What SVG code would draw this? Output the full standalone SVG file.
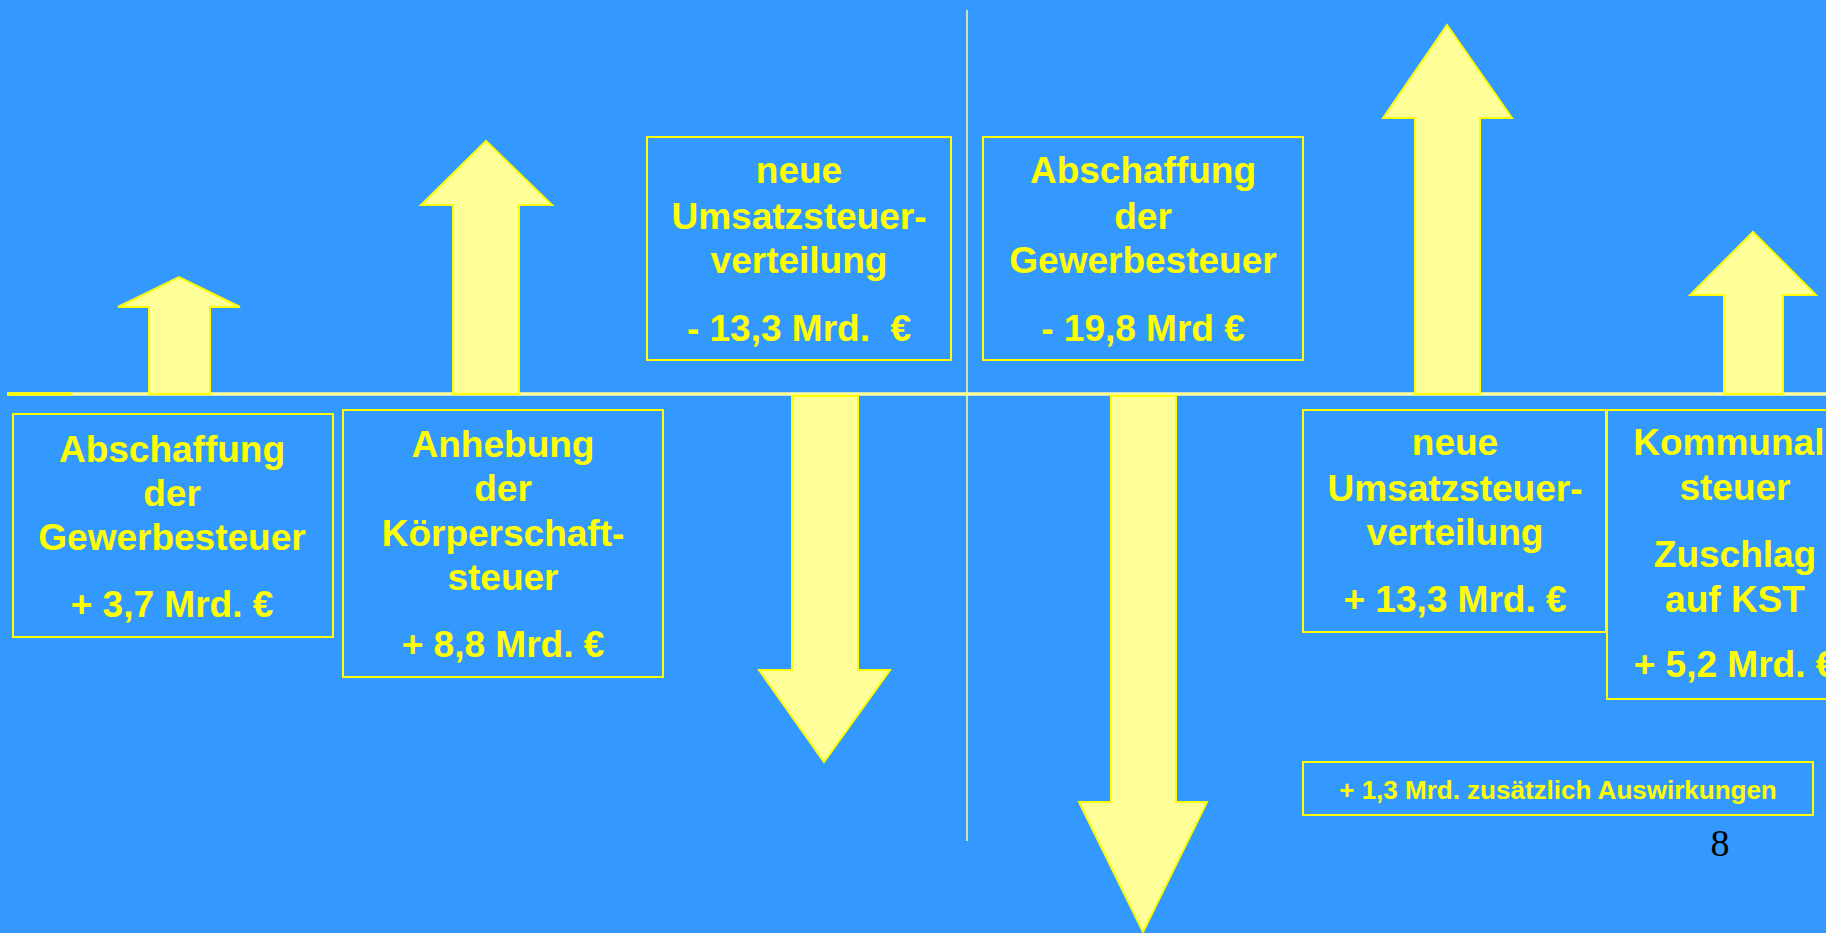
<svg xmlns="http://www.w3.org/2000/svg" width="1826" height="933" viewBox="0 0 1826 933">
<style>
.bg{fill:#3399FF}
.box{fill:none;stroke:#FFFF00;stroke-width:2}
.arrow{fill:#FFFF99;stroke:#FFFF00;stroke-width:2;stroke-linejoin:miter}
.t{font-family:"Liberation Sans",Arial,sans-serif;font-weight:bold;font-size:37px;fill:#FFFF00;text-anchor:middle}
.s{font-size:26px}
.pg{font-family:"Liberation Serif","Times New Roman",serif;font-size:38px;fill:#000;text-anchor:middle}
</style>
<rect class="bg" x="0" y="0" width="1826" height="933"/>
<g id="connectors">
<line x1="7" y1="394" x2="1826" y2="394" stroke="#FFFF99" stroke-width="3.5"/>
<line x1="7" y1="394" x2="72" y2="394" stroke="#FFFF00" stroke-width="3.5"/>
<line x1="967" y1="10" x2="967" y2="841" stroke="#FFFF99" stroke-width="1.5"/>
<polygon id="arrow1" class="arrow" points="149,394 149,307 118,307 179,277 240,307 210,307 210,394"/>
<polygon id="arrow2" class="arrow" points="453,394 453,205 421,205 486,141 552,205 519,205 519,394"/>
<polygon id="arrow3" class="arrow" points="792,396 792,670 759,670 824,762 890,670 858,670 858,396"/>
<polygon id="arrow4" class="arrow" points="1111,396 1111,802 1079,802 1143,932 1207,802 1176,802 1176,396"/>
<polygon id="arrow5" class="arrow" points="1415,394 1415,118 1383,118 1447,25 1512,118 1480,118 1480,394"/>
<polygon id="arrow6" class="arrow" points="1724,394 1724,295 1690,295 1753,232 1816,295 1783,295 1783,394"/>
</g>
<g id="box-ust-minus">
<rect class="box" x="647" y="137" width="304" height="223"/>
<text class="t" x="799" y="183">neue</text>
<text class="t" x="799" y="229">Umsatzsteuer-</text>
<text class="t" x="799" y="273">verteilung</text>
<text class="t" x="799" y="341" xml:space="preserve">- 13,3 Mrd.  €</text>
</g>
<g id="box-gew-minus">
<rect class="box" x="983" y="137" width="320" height="223"/>
<text class="t" x="1143" y="183">Abschaffung</text>
<text class="t" x="1143" y="229">der</text>
<text class="t" x="1143" y="273">Gewerbesteuer</text>
<text class="t" x="1143" y="341">- 19,8 Mrd €</text>
</g>
<g id="box-gew-plus">
<rect class="box" x="13" y="414" width="320" height="223"/>
<text class="t" x="172" y="462">Abschaffung</text>
<text class="t" x="172" y="506">der</text>
<text class="t" x="172" y="550">Gewerbesteuer</text>
<text class="t" x="172" y="617">+ 3,7 Mrd. €</text>
</g>
<g id="box-kst">
<rect class="box" x="343" y="410" width="320" height="267"/>
<text class="t" x="503" y="457">Anhebung</text>
<text class="t" x="503" y="501">der</text>
<text class="t" x="503" y="546">Körperschaft-</text>
<text class="t" x="503" y="590">steuer</text>
<text class="t" x="503" y="657">+ 8,8 Mrd. €</text>
</g>
<g id="box-ust-plus">
<rect class="box" x="1303" y="410" width="303" height="222"/>
<text class="t" x="1455" y="455">neue</text>
<text class="t" x="1455" y="501">Umsatzsteuer-</text>
<text class="t" x="1455" y="545">verteilung</text>
<text class="t" x="1455" y="612">+ 13,3 Mrd. €</text>
</g>
<g id="box-kommunal">
<rect class="box" x="1607" y="410" width="260" height="289"/>
<text class="t" x="1735" y="455">Kommunal-</text>
<text class="t" x="1735" y="500">steuer</text>
<text class="t" x="1735" y="567">Zuschlag</text>
<text class="t" x="1735" y="612">auf KST</text>
<text class="t" x="1735" y="677">+ 5,2 Mrd. €</text>
</g>
<g id="box-extra">
<rect class="box" x="1303" y="762" width="510" height="53"/>
<text class="t s" x="1558" y="799">+ 1,3 Mrd. zusätzlich Auswirkungen</text>
</g>
<g id="page-number">
<text class="pg" x="1720" y="856">8</text>
</g>
</svg>
